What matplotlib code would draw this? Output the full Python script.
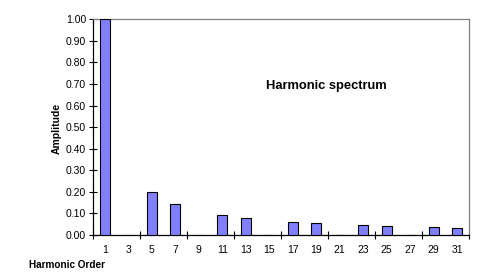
import matplotlib
matplotlib.use("Agg")
import matplotlib.pyplot as plt
import numpy as np

plt.rcParams['font.family'] = ['Liberation Sans', 'DejaVu Sans']

orders = ['1', '3', '5', '7', '9', '11', '13', '15', '17', '19', '21', '23', '25', '27', '29', '31']
amplitudes = [1.00, 0.0, 0.20, 0.143, 0.0, 0.091, 0.077, 0.0, 0.059, 0.054, 0.0, 0.045, 0.040, 0.0, 0.035, 0.031]
yticks = [0.0, 0.1, 0.2, 0.3, 0.4, 0.5, 0.6, 0.7, 0.8, 0.9, 1.0]

fig = plt.figure(figsize=(4.84, 2.78), dpi=100)
ax = fig.add_axes([93/484, 1-235/278, (469-93)/484, (235-19.3)/278])

x = np.arange(len(orders))
ax.bar(x, amplitudes, width=0.42, color='#8080FF', edgecolor='black', linewidth=0.8, zorder=3)

ax.set_xlim(-0.5, len(orders)-0.5)
ax.set_ylim(0, 1.0)

ax.set_xticks(np.arange(-0.5, len(orders), 2))
ax.set_xticklabels([])
ax.set_xticks(x, minor=True)
ax.set_xticklabels(orders, minor=True, fontsize=7.5)
ax.tick_params(axis='x', which='major', direction='inout', length=6, width=0.8)
ax.tick_params(axis='x', which='minor', length=0, pad=7)

ax.set_yticks(yticks)
ax.set_yticklabels([f'{v:.2f}' for v in yticks], fontsize=7.5)
ax.tick_params(axis='y', direction='inout', length=6, width=0.8, pad=2)

for s in ['left', 'bottom']:
    ax.spines[s].set_color('black')
    ax.spines[s].set_linewidth(0.9)
for s in ['top', 'right']:
    ax.spines[s].set_color('#808080')
    ax.spines[s].set_linewidth(0.9)

fig.text(57/484, 1-128/278, 'Amplitude', rotation=90, ha='center', va='center', fontsize=7.5, fontweight='bold')
fig.text(29/484, 1-265/278, 'Harmonic Order', ha='left', va='center', fontsize=7.2, fontweight='bold')
fig.text(326/484, 1-86/278, 'Harmonic spectrum', ha='center', va='center', fontsize=9.3, fontweight='bold')

fig.savefig('out.png', dpi=100)
